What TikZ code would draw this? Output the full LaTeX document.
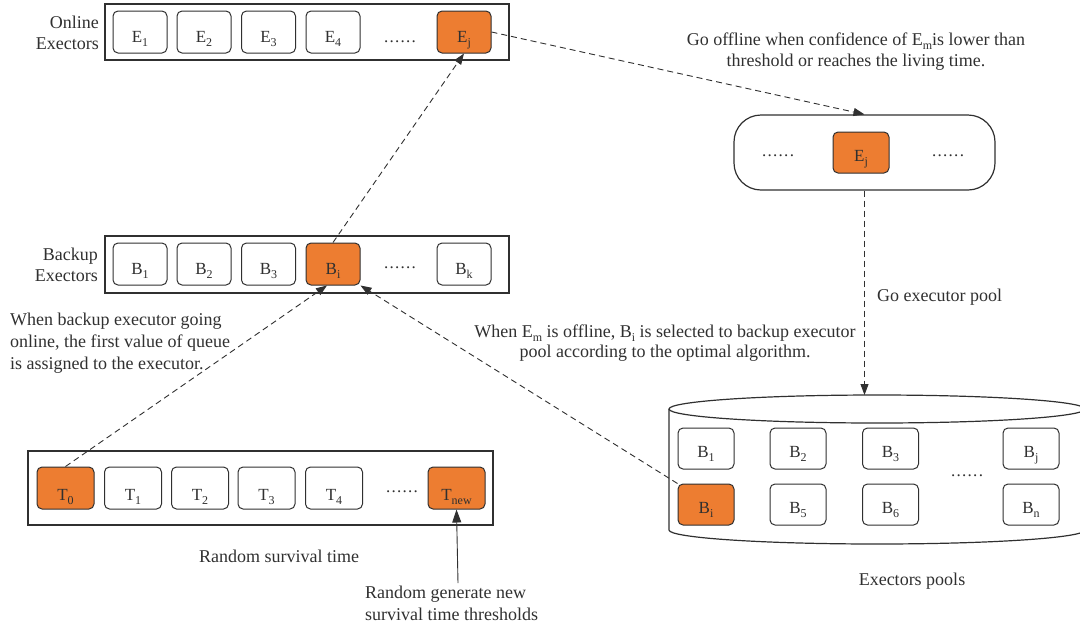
\documentclass[tikz,border=0pt]{standalone}
\usepackage{fontspec}
\setmainfont{Liberation Serif}
\usetikzlibrary{arrows.meta}
\definecolor{execorange}{HTML}{ED7D31}
\definecolor{ink}{HTML}{303030}
% lowered subscript in the running text font
\newcommand{\lsub}[1]{\raisebox{-4pt}{\fontsize{12}{12}\selectfont #1}}
% widely spaced ellipsis
\newcommand{\gapdots}{.\kern1.3pt.\kern1.3pt.\kern1.3pt.\kern1.3pt.\kern1.3pt.}

\begin{document}
\begin{tikzpicture}[x=1pt,y=-1pt,
  every node/.style={text=ink},
  txt/.style={font=\fontsize{18}{21}\selectfont, inner sep=0pt},
  slot/.style={draw=ink, line width=1pt, rounded corners=5pt, fill=white,
    minimum width=54pt, minimum height=42pt, inner sep=0pt,
    text height=20pt, text depth=0pt,
    font=\fontsize{17}{17}\selectfont},
  hot/.style={slot, fill=execorange},
  qslot/.style={slot, minimum width=57pt, text height=25pt},
  qhot/.style={qslot, fill=execorange},
  poolslot/.style={slot, minimum width=56pt, minimum height=41pt, text height=18pt},
  poolhot/.style={poolslot, fill=execorange},
  dots/.style={font=\fontsize{17}{17}\selectfont, inner sep=0pt},
  frame/.style={draw=ink, line width=1.2pt},
  flow/.style={draw=ink, line width=0.9pt, dash pattern=on 6pt off 4pt,
    -{Triangle[length=11pt,width=8pt]}},
  feed/.style={draw=ink, line width=0.9pt, -{Triangle[length=13pt,width=9pt]}}
]
\clip (0,0) rectangle (1080,633);

% ---- online executors ----
\draw[frame] (105,4) rectangle (509,60);
\node[txt, anchor=east, align=right, font=\fontsize{18}{21}\selectfont] (onl) at (99,33) {Online\\Exectors};
\node[slot] (E1) at (140,32) {E\lsub{1}};
\node[slot] (E2) at (204,32) {E\lsub{2}};
\node[slot] (E3) at (268.5,32) {E\lsub{3}};
\node[slot] (E4) at (333,32) {E\lsub{4}};
\node[dots] (edots) at (400,42) {\gapdots};
\node[hot] (Ej) at (464,32) {E\lsub{j}};

% ---- backup executors ----
\draw[frame] (105,236) rectangle (509,293);
\node[txt, anchor=east, align=right, font=\fontsize{18}{21}\selectfont] (bak) at (98,265) {Backup\\Exectors};
\node[slot] (B1) at (140,264) {B\lsub{1}};
\node[slot] (B2) at (204,264) {B\lsub{2}};
\node[slot] (B3) at (268.5,264) {B\lsub{3}};
\node[hot] (Bi) at (333,264) {B\lsub{i}};
\node[dots] (bdots) at (400,268) {\gapdots};
\node[slot] (Bk) at (464,264) {B\lsub{k}};

% ---- survival time queue ----
\draw[frame] (28,451) rectangle (493,525);
\node[qhot] (T0) at (65.5,488) {T\lsub{0}};
\node[qslot] (T1) at (133,488) {T\lsub{1}};
\node[qslot] (T2) at (200,488) {T\lsub{2}};
\node[qslot] (T3) at (266.5,488) {T\lsub{3}};
\node[qslot] (T4) at (334,488) {T\lsub{4}};
\node[dots] (tdots) at (402,492) {\gapdots};
\node[qhot] (Tnew) at (456.5,488) {T\lsub{new}};
\node[txt] (rst) at (279,556) {Random survival time};
\coordinate (gen) at (458,583);
\node[txt, anchor=north west, align=left, font=\fontsize{18}{22}\selectfont] (gentxt) at (365,586) {Random generate new\\survival time thresholds};

% ---- offline holder ----
\node[draw=ink, line width=1.2pt, rounded corners=27pt, minimum width=261pt,
  minimum height=75pt] (offl) at (864.5,152.5) {};
\node[poolhot] (Ej2) at (861,152.5) {E\lsub{j}};
\node[dots] (odots1) at (778,156) {\gapdots};
\node[dots] (odots2) at (948,156) {\gapdots};

% ---- executor pool cylinder ----
\draw[frame, fill=white] (669,409) -- (669,530)
  arc[start angle=180, end angle=0, x radius=208, y radius=14] -- (1085,409);
\draw[frame] (877,409) ellipse[x radius=208, y radius=14];
\coordinate (pooltop) at (864,395);
\node[poolslot] (pB1) at (706,448.5) {B\lsub{1}};
\node[poolslot] (pB2) at (798,448.5) {B\lsub{2}};
\node[poolslot] (pB3) at (890.5,448.5) {B\lsub{3}};
\node[poolslot] (pBj) at (1031,448.5) {B\lsub{j}};
\node[poolhot] (pBi) at (706,504.5) {B\lsub{i}};
\node[poolslot] (pB5) at (798,504.5) {B\lsub{5}};
\node[poolslot] (pB6) at (890.5,504.5) {B\lsub{6}};
\node[poolslot] (pBn) at (1031,504.5) {B\lsub{n}};
\node[dots] (pdots) at (967,476) {\gapdots};
\node[txt] (pooltxt) at (912,581) {Exectors pools};

% ---- annotations ----
\node[txt, align=center, font=\fontsize{18}{21}\selectfont] (offtxt) at (856,52)
  {Go offline when confidence of E\lsub{m}is lower than\\threshold or reaches the living time.};
\node[txt, anchor=west] (gotxt) at (877,297) {Go executor pool};
\node[txt, align=center, font=\fontsize{18}{19.5}\selectfont] (seltxt) at (665,343)
  {When E\lsub{m} is offline, B\lsub{i} is selected to backup executor\\pool according to the optimal algorithm.};
\node[txt, anchor=west, align=left, font=\fontsize{18}{22}\selectfont] (ontxt) at (10,343)
  {When backup executor going\\online, the first value of queue\\is assigned to the executor.};

% ---- connectors ----
\draw[flow] (Ej.east) -- (offl.north);
\draw[flow] (Bi.north) -- (Ej.south);
\draw[flow] (T0.north) -- ([xshift=-6pt]Bi.south);
\draw[flow] (pBi.north west) -- (Bi.south east);
\draw[flow] (offl.south) -- (offl.south |- pooltop);
\draw[feed] (gen) -- (Tnew.south);
\end{tikzpicture}
\end{document}
